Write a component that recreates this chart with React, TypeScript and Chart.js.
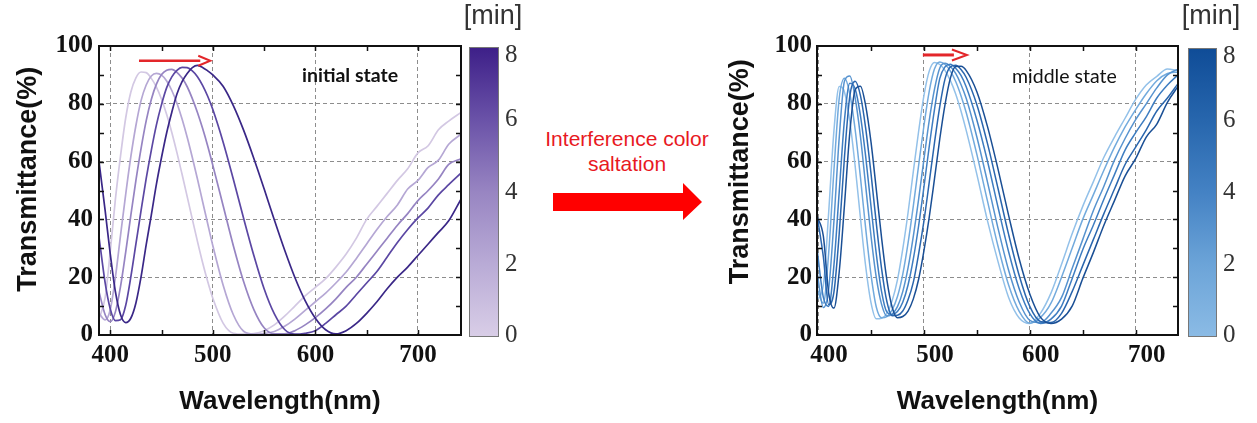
import React, { useEffect, useRef } from "react";
import { Chart, registerables } from "chart.js";

Chart.register(...registerables);

// ---------- data: initial state (left panel) ----------
const WL_INITIAL = [389, 395, 400, 405, 410, 415, 420, 425, 430, 435, 440, 445, 450, 455, 460, 465, 470, 475, 480, 485, 490, 495, 500, 510, 520, 530, 540, 550, 560, 570, 580, 590, 600, 610, 620, 630, 640, 650, 660, 670, 680, 690, 700, 710, 720, 730, 742];
const INITIAL_0 = [5.6, 13, 29, 47, 62, 75, 84, 89, 91, 90.8, 88.8, 85.8, 81.6, 76.3, 70.1, 63.1, 55.6, 47.9, 40.1, 32.4, 25.1, 18.5, 12.7, 4.1, 0.6, 0.3, 0.5, 1.5, 3.5, 6.5, 10, 13.5, 16.5, 19.5, 23.5, 28, 33.5, 40, 44.5, 49, 53.5, 57.5, 63, 65.5, 71, 74, 77];
const INITIAL_2 = [7.5, 5.2, 8.8, 20, 34.5, 48.6, 61.6, 72.5, 81.1, 86.5, 89.6, 90.5, 89.9, 87.9, 84.6, 80.2, 74.7, 68.4, 61.4, 54, 46.2, 38.5, 30.9, 17.3, 7, 1.3, 0.3, 0.5, 1.2, 3, 5.5, 8.5, 11.5, 14.5, 18, 21.8, 26.5, 31.5, 36.5, 41, 45, 50.5, 53.5, 58, 60.5, 66, 69.5];
const INITIAL_4 = [15, 7, 4.6, 8, 16.8, 28.6, 41.3, 53.5, 64.5, 74.1, 81.5, 86.8, 90.1, 91.6, 91.9, 90.9, 88.9, 85.9, 81.8, 77, 71.5, 65.4, 58.7, 44.8, 30.9, 18.5, 8.8, 2.5, 0.4, 0.4, 1.5, 3.5, 6, 9, 12.5, 16.5, 20, 24.5, 29, 33.5, 38, 42, 46.5, 50, 54, 59, 61];
const INITIAL_6 = [34, 18, 9, 5, 5.3, 10.2, 20, 31.5, 43, 54.1, 63.9, 72.7, 79.8, 85.6, 89.3, 91.6, 92.6, 92.5, 91.4, 89.4, 86.4, 82.6, 78, 66.8, 53.9, 40.4, 27.5, 16, 7.3, 1.9, 0.3, 0.6, 1.5, 4, 7, 10, 14, 18, 22, 27, 32, 36.5, 40.5, 44, 48.5, 52, 56];
const INITIAL_8 = [60, 43, 28, 15, 7, 4.3, 5.8, 11.1, 20.1, 31.2, 41.5, 52.2, 61.5, 70, 77.1, 83.4, 87.7, 90.5, 92.5, 93.3, 92.6, 91.4, 90, 86.1, 79.4, 70.9, 61.1, 50.6, 39.8, 29.4, 19.9, 11.9, 5.8, 1.8, 0.4, 1.5, 4, 7.5, 11.5, 16, 20, 23.5, 27.5, 31.5, 35.5, 39.5, 47];

// ---------- data: middle state (right panel) ----------
const WL_MIDDLE = [399, 405, 410, 415, 420, 425, 430, 435, 440, 445, 450, 455, 460, 465, 470, 475, 480, 485, 490, 495, 500, 505, 510, 515, 520, 525, 530, 535, 540, 550, 560, 570, 580, 590, 600, 610, 620, 630, 640, 650, 660, 670, 680, 690, 700, 710, 720, 730, 740];
const MIDDLE_0 = [12, 17.3, 42.3, 70.7, 86, 84, 74, 58.6, 40.6, 23.7, 11.2, 5.6, 5.8, 7.5, 11.9, 19.1, 29.7, 42.3, 56.6, 70.5, 82.8, 91.3, 94.3, 93.6, 91.5, 88, 83.4, 77.5, 70.7, 55.6, 39.6, 25.4, 13, 5.9, 4, 7.5, 14.5, 24.5, 35, 44.5, 53, 61.5, 68.5, 75, 81.5, 86.5, 89.5, 92, 91.5];
const MIDDLE_1 = [16, 11, 28.2, 57, 81.9, 88.8, 83.4, 71.2, 54.7, 36.8, 20.9, 9.7, 6, 6.4, 8.7, 13.3, 21, 31.8, 44.7, 58.7, 72.4, 84.3, 92.1, 94.5, 93.6, 91.3, 87.7, 82.8, 76.9, 62.5, 46.4, 30.7, 17.3, 8.2, 4.1, 6, 11, 20, 30, 40, 48.5, 57, 65, 72, 78, 83.5, 88, 90.5, 91];
const MIDDLE_2 = [22, 9.5, 15.8, 39.4, 68.3, 87.9, 89.6, 82.1, 68.8, 51.5, 34.3, 19.9, 10.6, 6.6, 7.2, 9.8, 15, 23.2, 34.2, 47, 60.8, 74.2, 85.1, 92.4, 94, 92.9, 90.5, 86.7, 81.8, 68.5, 53, 36.9, 22.4, 11.4, 5.1, 4.3, 7.5, 13, 23, 33, 43, 51.5, 60.5, 68, 74.5, 80, 85.5, 90, 92];
const MIDDLE_3 = [30, 13, 9.9, 24.2, 49.6, 74.6, 87.1, 85.2, 76, 61.7, 44.6, 28.1, 15, 7.9, 7.1, 8.1, 11.3, 17.3, 26.3, 37.8, 51.2, 65.2, 78.1, 88.8, 92.8, 93.7, 92.3, 89.8, 85.8, 74.4, 60.2, 44.2, 28.8, 16, 7.4, 4, 5.5, 10, 19.5, 29.5, 38, 47, 55.5, 64, 70, 75.5, 82, 86.5, 90];
const MIDDLE_4 = [41.5, 27, 10.5, 14.8, 35.1, 61.8, 82.7, 87.8, 82.9, 71.5, 55.9, 38.7, 23, 11.6, 6.7, 6.8, 8.3, 12.2, 18.3, 28.1, 39.4, 52.8, 66.6, 79.1, 88.7, 92.8, 93.3, 91.9, 89.1, 79.7, 66.3, 50.7, 34.8, 20.6, 9.9, 4.7, 4.3, 7.5, 15, 24, 33, 42, 50.5, 59, 65, 71, 77.5, 82, 87];
const MIDDLE_5 = [41, 34.2, 14.6, 9.3, 21.9, 45.2, 70.1, 84.8, 86.1, 79.3, 66.8, 50.4, 33.6, 19.1, 9.6, 6, 6.4, 8.3, 12.5, 19.3, 29.1, 40.7, 54.1, 67.9, 79.9, 88.9, 92.9, 93, 91.5, 84.2, 72.2, 57.4, 41.4, 26.3, 14.2, 6.2, 4, 5.5, 10, 19.5, 28.5, 38, 46.5, 55, 61, 68.5, 73, 80.5, 86];

const X_TICKS = [400, 500, 600, 700];
const X_MINOR = [400, 450, 500, 550, 600, 650, 700];
const Y_MINOR = [10, 20, 30, 40, 50, 60, 70, 80, 90];
const TIME_TICKS = [0, 2, 4, 6, 8];

const INITIAL_COLORS = ["#d3c8e3", "#b5a7d4", "#9684c2", "#5b47a3", "#3a2787"];
const MIDDLE_COLORS = ["#93c1e9", "#72aadd", "#5793cf", "#3e7dc1", "#2a66ae", "#1a4f95"];

type Decor = {
  barStops: string[];
  barX: number;
  barW: number;
  barTop: number;
  barBottom: number;
  minX: number;
  labelX: number;
  note: string;
  noteFont: string;
  noteX: number;
  noteY: number;
  arrow: { x0: number; x1: number; y: number; head: number; half: number; width: number };
};

function decorPlugin(d: Decor) {
  return {
    id: "decor",
    afterDatasetsDraw(chart: any) {
      const { ctx, chartArea: a, scales } = chart;
      const xs = scales.x;
      const ys = scales.y;
      ctx.save();
      // inward ticks
      ctx.strokeStyle = "#111";
      ctx.lineWidth = 1.5;
      ctx.beginPath();
      for (const v of X_MINOR) {
        const px = Math.round(xs.getPixelForValue(v)) + 0.5;
        if (px < a.left + 2 || px > a.right - 2) continue;
        ctx.moveTo(px, a.bottom);
        ctx.lineTo(px, a.bottom - 5);
        ctx.moveTo(px, a.top);
        ctx.lineTo(px, a.top + 5);
      }
      for (const v of Y_MINOR) {
        const py = Math.round(ys.getPixelForValue(v)) + 0.5;
        ctx.moveTo(a.left, py);
        ctx.lineTo(a.left + 5, py);
        ctx.moveTo(a.right, py);
        ctx.lineTo(a.right - 5, py);
      }
      ctx.stroke();
      // frame
      ctx.lineWidth = 2;
      ctx.strokeStyle = "#111";
      ctx.strokeRect(a.left, a.top, a.right - a.left, a.bottom - a.top);
      // red arrow
      const ar = d.arrow;
      const x0 = xs.getPixelForValue(ar.x0);
      const x1 = xs.getPixelForValue(ar.x1);
      const y = ys.getPixelForValue(ar.y);
      ctx.strokeStyle = "#e3262a";
      ctx.fillStyle = "#e3262a";
      ctx.lineWidth = ar.width;
      ctx.beginPath();
      ctx.moveTo(x0, y);
      ctx.lineTo(x1 - ar.head + 2, y);
      ctx.stroke();
      ctx.lineWidth = 2;
      ctx.lineJoin = "miter";
      ctx.beginPath();
      ctx.moveTo(x1 - ar.head, y - ar.half);
      ctx.lineTo(x1, y);
      ctx.lineTo(x1 - ar.head, y + ar.half);
      ctx.stroke();
      // note text
      ctx.fillStyle = "#111";
      ctx.font = d.noteFont;
      ctx.textAlign = "left";
      ctx.textBaseline = "alphabetic";
      ctx.fillText(d.note, d.noteX, d.noteY);
      ctx.restore();
    },
    afterDraw(chart: any) {
      const { ctx } = chart;
      ctx.save();
      const g = ctx.createLinearGradient(0, d.barBottom, 0, d.barTop);
      d.barStops.forEach((c, i) => g.addColorStop(i / (d.barStops.length - 1), c));
      ctx.fillStyle = g;
      ctx.fillRect(d.barX, d.barTop, d.barW, d.barBottom - d.barTop);
      ctx.strokeStyle = "#777";
      ctx.lineWidth = 1;
      ctx.strokeRect(d.barX + 0.5, d.barTop + 0.5, d.barW - 1, d.barBottom - d.barTop - 1);
      ctx.fillStyle = "#333";
      ctx.font = "25px 'Liberation Serif'";
      ctx.textAlign = "left";
      ctx.textBaseline = "middle";
      for (const t of TIME_TICKS) {
        let py = d.barBottom - (t / 8) * (d.barBottom - d.barTop);
        py = Math.max(py, d.barTop + 8);
        py = Math.min(py, d.barBottom - 2);
        ctx.fillText(String(t), d.labelX, py);
      }
      ctx.font = "27px 'Liberation Sans'";
      ctx.textAlign = "center";
      ctx.textBaseline = "alphabetic";
      ctx.fillText("[min]", d.minX, 24);
      ctx.restore();
    },
  };
}

function makeOptions(p: {
  xMin: number;
  xMax: number;
  yWidth: number;
  yTitle: string;
  yTitlePad: number;
  yTickPad: number;
  xLabelOffset: number;
}) {
  const tickFont = { family: "'Liberation Serif'", size: 25, weight: "bold" as const };
  const titleFont = { family: "'Liberation Sans'", size: 26, weight: "bold" as const };
  return {
    responsive: false,
    animation: false as const,
    events: [] as any[],
    layout: { padding: { left: 0, right: 79, top: 46, bottom: 0 } },
    plugins: { legend: { display: false }, tooltip: { enabled: false } },
    elements: { point: { radius: 0 } },
    scales: {
      x: {
        type: "linear" as const,
        min: p.xMin,
        max: p.xMax,
        afterBuildTicks: (s: any) => {
          s.ticks = X_TICKS.map((v) => ({ value: v }));
        },
        afterFit: (s: any) => {
          s.height = 88;
        },
        grid: { color: "#8d8d8d", lineWidth: 1, drawTicks: false },
        border: { display: false, dash: [4, 3] },
        ticks: {
          padding: 6,
          labelOffset: p.xLabelOffset,
          maxRotation: 0,
          autoSkip: false,
          color: "#111",
          font: tickFont,
        },
        title: {
          display: true,
          text: "Wavelength(nm)",
          color: "#111",
          font: titleFont,
          padding: { top: 0, bottom: 6 },
        },
      },
      y: {
        type: "linear" as const,
        min: 0,
        max: 100,
        afterFit: (s: any) => {
          s.width = p.yWidth;
        },
        grid: { color: "#8d8d8d", lineWidth: 1, drawTicks: false },
        border: { display: false, dash: [4, 3] },
        ticks: { stepSize: 20, padding: p.yTickPad, color: "#111", font: tickFont },
        title: {
          display: true,
          text: p.yTitle,
          color: "#111",
          font: { family: "'Liberation Sans'", size: 27, weight: "bold" as const },
          padding: { top: p.yTitlePad, bottom: 0 },
        },
      },
    },
  };
}

function series(wl: number[], t: number[], color: string, width: number) {
  return {
    data: wl.map((x, i) => ({ x, y: t[i] })),
    borderColor: color,
    borderWidth: width,
    fill: false,
    pointRadius: 0,
    cubicInterpolationMode: "monotone" as const,
  };
}

export default function App() {
  const leftRef = useRef<HTMLCanvasElement | null>(null);
  const rightRef = useRef<HTMLCanvasElement | null>(null);

  useEffect(() => {
    const initialSets = [INITIAL_8, INITIAL_6, INITIAL_4, INITIAL_2, INITIAL_0];
    const initialCols = [...INITIAL_COLORS].reverse();
    const left = new Chart(leftRef.current as HTMLCanvasElement, {
      type: "line",
      data: {
        datasets: initialSets.map((t, i) => series(WL_INITIAL, t, initialCols[i], 1.7)),
      },
      options: makeOptions({
        xMin: 389,
        xMax: 742,
        yWidth: 99,
        yTitle: "   Transmittance(%)",
        yTitlePad: 12,
        yTickPad: 6,
        xLabelOffset: 0,
      }) as any,
      plugins: [
        decorPlugin({
          barStops: ["#d9cee7", "#b9abd6", "#9885c2", "#6a52a8", "#3d1f88"],
          barX: 469,
          barW: 30,
          barTop: 47,
          barBottom: 337,
          minX: 493,
          labelX: 505,
          note: "initial state",
          noteFont: "bold 19.5px Lato",
          noteX: 302,
          noteY: 82,
          arrow: { x0: 428, x1: 497.5, y: 94.9, head: 12, half: 5, width: 2.5 },
        }),
      ],
    });

    const middleSets = [MIDDLE_5, MIDDLE_4, MIDDLE_3, MIDDLE_2, MIDDLE_1, MIDDLE_0];
    const middleCols = [...MIDDLE_COLORS].reverse();
    const right = new Chart(rightRef.current as HTMLCanvasElement, {
      type: "line",
      data: {
        datasets: middleSets.map((t, i) => series(WL_MIDDLE, t, middleCols[i], 1.5)),
      },
      options: makeOptions({
        xMin: 399,
        xMax: 740,
        yWidth: 117,
        yTitle: "     Transmittance(%)",
        yTitlePad: 24,
        yTickPad: 5,
        xLabelOffset: 11,
      }) as any,
      plugins: [
        decorPlugin({
          barStops: ["#8bbbe5", "#6ca4d8", "#4482c4", "#2766ad", "#0f4c97"],
          barX: 488,
          barW: 29,
          barTop: 48,
          barBottom: 337,
          minX: 511,
          labelX: 523,
          note: "middle state",
          noteFont: "19.5px Lato",
          noteX: 312,
          noteY: 83,
          arrow: { x0: 499, x1: 540.6, y: 96.9, head: 15, half: 5.5, width: 3 },
        }),
      ],
    });

    return () => {
      left.destroy();
      right.destroy();
    };
  }, []);

  return (
    <div
      style={{
        position: "absolute",
        left: 0,
        top: 0,
        width: 1257,
        height: 423,
        background: "#fff",
        overflow: "hidden",
      }}
    >
      <svg
        width={1257}
        height={423}
        style={{ position: "absolute", left: 0, top: 0, pointerEvents: "none" }}
      >
        <text
          x={627}
          y={146}
          textAnchor="middle"
          fontFamily="'Liberation Sans'"
          fontSize={21}
          fill="#e8191f"
        >
          Interference color
        </text>
        <text
          x={627}
          y={171}
          textAnchor="middle"
          fontFamily="'Liberation Sans'"
          fontSize={21}
          fill="#e8191f"
        >
          saltation
        </text>
        <polygon points="553,193 683,193 683,183 702,202 683,220 683,211 553,211" fill="#ff0000" />
      </svg>
      <canvas
        ref={leftRef}
        width={540}
        height={423}
        style={{ position: "absolute", left: 0, top: 0 }}
      />
      <canvas
        ref={rightRef}
        width={557}
        height={423}
        style={{ position: "absolute", left: 700, top: 0 }}
      />
    </div>
  );
}
